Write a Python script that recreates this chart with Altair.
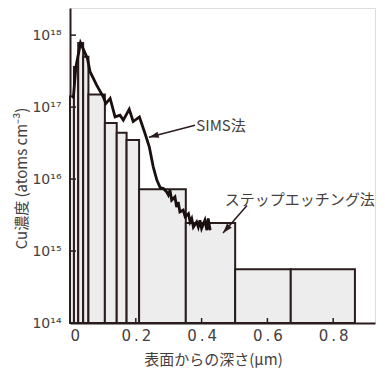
import altair as alt
import pandas as pd

# Step-etching bars (depth in µm, Cu concentration in atoms/cm^3)
bar_start = [0.000, 0.012, 0.025, 0.040, 0.056, 0.106, 0.142, 0.172, 0.210, 0.352, 0.502, 0.671]
bar_end = [0.012, 0.025, 0.040, 0.056, 0.106, 0.142, 0.172, 0.210, 0.352, 0.502, 0.671, 0.866]
bar_conc = [1.4e17, 3.6e17, 7.8e17, 5.0e17, 1.5e17, 6.0e16, 4.4e16, 3.5e16, 7.2e15, 2.46e15, 5.6e14, 5.6e14]

# SIMS profile
sims_depth = [0.010, 0.018, 0.032, 0.053, 0.061, 0.081, 0.101, 0.109, 0.122, 0.137, 0.152, 0.162,
              0.180, 0.192, 0.211, 0.228, 0.241, 0.253, 0.264, 0.274, 0.284, 0.294, 0.299, 0.304,
              0.309, 0.319, 0.324, 0.329, 0.334, 0.344, 0.350, 0.360, 0.365, 0.370, 0.375, 0.385,
              0.390, 0.395, 0.400, 0.410, 0.416, 0.420, 0.426]
sims_conc = [1.32e17, 3.64e17, 7.8e17, 4.75e17, 3.1e17, 2.02e17, 1.39e17, 1.12e17, 1.32e17, 7.3e16,
             7.7e16, 6.6e16, 9.3e16, 6.3e16, 7.3e16, 4.3e16, 2.8e16, 1.48e16, 9.7e15, 7.6e15,
             7.4e15, 6.6e15, 6.0e15, 7.0e15, 5.1e15, 5.65e15, 4.1e15, 4.8e15, 3.5e15, 3.7e15,
             3.0e15, 3.3e15, 2.54e15, 2.83e15, 2.16e15, 2.54e15, 2.16e15, 2.68e15, 2.06e15,
             2.68e15, 1.95e15, 2.83e15, 1.95e15]

x_ticks = [0, 0.2, 0.4, 0.6, 0.8]
x_tick_labels = ["0", "0\u2009.\u20092", "0\u2009.\u20094", "0\u2009.\u20096", "0\u2009.\u20098"]
y_ticks = [1e14, 1e15, 1e16, 1e17, 1e18]
y_tick_labels = ["10¹⁴", "10¹⁵", "10¹⁶", "10¹⁷", "10¹⁸"]

# Annotations
ann_text = ["SIMS法", "ステップエッチング法"]
ann_text_x = [0.384, 0.470]
ann_text_y = [5.5e16, 5.2e15]
arrow_tail_x = [0.380, 0.538]
arrow_tail_y = [5.6e16, 4.3e15]
arrow_head_x = [0.240, 0.465]
arrow_head_y = [3.8e16, 1.78e15]
arrow_angle = [255, 221]

W, H = 305, 315
INK = "#2a1c1c"
TXT = "#454040"
JP = "Noto Sans CJK JP"

xscale = alt.Scale(domain=[0, 0.927], nice=False, zero=False)
yscale = alt.Scale(type="log", domain=[1e14, 10 ** 18.377], nice=False)

bars = pd.DataFrame({"start": bar_start, "end": bar_end, "conc": bar_conc,
                     "base": [1e14] * len(bar_conc)})
sims = pd.DataFrame({"depth": sims_depth, "conc": sims_conc})
ann = pd.DataFrame({"text": ann_text, "tx": ann_text_x, "ty": ann_text_y,
                    "x0": arrow_tail_x, "y0": arrow_tail_y,
                    "x1": arrow_head_x, "y1": arrow_head_y, "ang": arrow_angle})

x_expr = " : ".join(f"datum.value == {v} ? '{l}'" for v, l in zip(x_ticks, x_tick_labels)) + " : ''"
y_expr = "['" + "','".join(y_tick_labels) + "'][round(log(datum.value)/LN10) - 14]"

x_axis = alt.Axis(values=x_ticks, labelExpr=x_expr, ticks=False, grid=False,
                  domainColor=INK, domainWidth=2, labelFont="DejaVu Sans", labelFontSize=15,
                  labelColor=TXT, labelPadding=5, title="表面からの深さ(μm)",
                  titleFont=JP, titleFontSize=15, titleFontWeight="normal", titleColor=TXT,
                  titleX=143, titleY=36, titleAnchor="middle", titleBaseline="middle",
                  titleAlign="center")
y_axis = alt.Axis(values=y_ticks, labelExpr=y_expr, ticks=False, grid=False,
                  domainColor=INK, domainWidth=2, labelFont="DejaVu Sans", labelFontSize=14,
                  labelColor=TXT, labelPadding=9, title="Cu濃度 (atoms cm⁻³)",
                  titleFont=JP, titleFontSize=15, titleFontWeight="normal", titleColor=TXT,
                  titleX=-49, titleY=170, titleAngle=-90, titleBaseline="middle",
                  titleAlign="center")

bar_layer = alt.Chart(bars).mark_rect(fill="#ededed", stroke=INK, strokeWidth=2).encode(
    x=alt.X("start:Q", scale=xscale, axis=x_axis),
    x2="end:Q",
    y=alt.Y("conc:Q", scale=yscale, axis=y_axis),
    y2="base:Q",
)

sims_layer = alt.Chart(sims).mark_line(color="#1a0f0f", strokeWidth=2.8, strokeJoin="miter").encode(
    x=alt.X("depth:Q", scale=xscale),
    y=alt.Y("conc:Q", scale=yscale),
)

xtick_layer = alt.Chart(pd.DataFrame({"v": x_ticks[1:]})).mark_rule(color=INK, strokeWidth=1.5).encode(
    x=alt.X("v:Q", scale=xscale), y=alt.value(H), y2=alt.value(H - 5))
ytick_layer = alt.Chart(pd.DataFrame({"v": y_ticks})).mark_rule(color=INK, strokeWidth=1.5).encode(
    y=alt.Y("v:Q", scale=yscale), x=alt.value(0), x2=alt.value(6))

arrow_line = alt.Chart(ann).mark_rule(color=INK, strokeWidth=1.5).encode(
    x=alt.X("x0:Q", scale=xscale), y=alt.Y("y0:Q", scale=yscale),
    x2="x1:Q", y2="y1:Q")
arrow_head = alt.Chart(ann).mark_point(shape="M0,0L0.32,1L-0.32,1Z", filled=True, color=INK,
                                        opacity=1, size=380, strokeWidth=0).encode(
    x=alt.X("x1:Q", scale=xscale), y=alt.Y("y1:Q", scale=yscale),
    angle=alt.Angle("ang:Q", scale=None))
ann_text_layer = alt.Chart(ann).mark_text(font=JP, fontSize=15, color=TXT, align="left",
                                          baseline="middle").encode(
    x=alt.X("tx:Q", scale=xscale), y=alt.Y("ty:Q", scale=yscale), text="text:N")

chart = alt.layer(bar_layer, sims_layer, xtick_layer, ytick_layer, arrow_line, arrow_head,
                  ann_text_layer).properties(
    width=W, height=H,
    autosize=alt.AutoSizeParams(type="none"),
    padding={"left": 62, "top": 0, "right": 2, "bottom": 45},
).configure_view(stroke=None).configure(background="white")

chart.save("out.html", embed_options={"renderer": "svg", "actions": False})
